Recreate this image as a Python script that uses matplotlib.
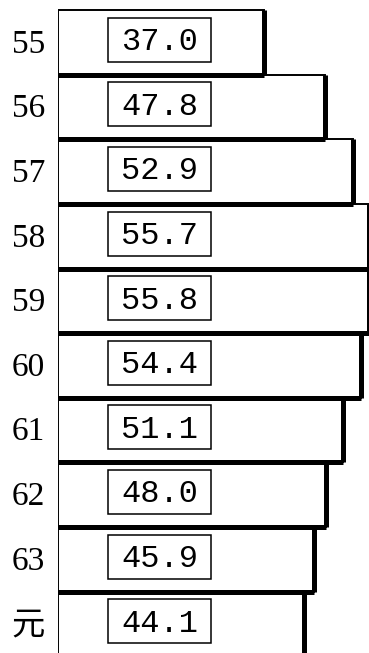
import matplotlib
matplotlib.use("Agg")
import matplotlib.pyplot as plt
from matplotlib.patches import Rectangle

years = ["55", "56", "57", "58", "59", "60", "61", "62", "63", "元"]
values = [37.0, 47.8, 52.9, 55.7, 55.8, 54.4, 51.1, 48.0, 45.9, 44.1]

plt.rcParams['font.family'] = ['Liberation Serif', 'Noto Sans CJK SC', 'DejaVu Sans']

fig = plt.figure(figsize=(3.69, 6.53), dpi=100)
ax = fig.add_axes([58 / 369, 0, 311 / 369, 1])

pos = list(range(len(values)))
ax.barh(pos, values, height=1.0, color="white", edgecolor="black", linewidth=1.4, zorder=2)

# heavy right and bottom edges (shadow look of the original)
ax.vlines(values, [p - 0.5 for p in pos], [p + 0.5 for p in pos], color="black", linewidth=3.6, zorder=3)
ax.hlines([p + 0.5 for p in pos], 0, values, color="black", linewidth=3.6, zorder=3)

box_left, box_w, box_h = 9.0, 18.5, 0.68
for p, v, y in zip(pos, values, years):
    ax.add_patch(Rectangle((box_left, p - 0.04 - box_h / 2), box_w, box_h,
                           facecolor="white", edgecolor="black", linewidth=1.1, zorder=4))
    ax.text(box_left + box_w / 2, p + 0.12, f"{v:.1f}", ha="center", va="baseline",
            fontsize=23, family=["Liberation Mono", "DejaVu Sans Mono"], zorder=5)
    ax.text(-0.042, p + 0.16, y, ha="right", va="baseline", fontsize=24,
            transform=ax.get_yaxis_transform(), clip_on=False)

ax.set_xlim(0, 55.75)
ax.set_ylim(9.45, -0.655)
ax.axis("off")

fig.savefig("out.png", dpi=100)
